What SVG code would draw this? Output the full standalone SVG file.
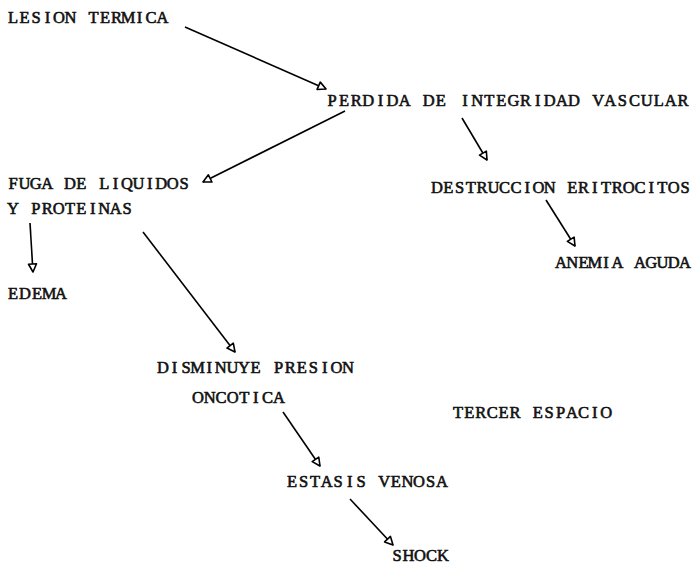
<svg xmlns="http://www.w3.org/2000/svg" width="699" height="570" viewBox="0 0 699 570">
<defs>
<marker id="ah" markerUnits="userSpaceOnUse" markerWidth="12" markerHeight="12" refX="9" refY="4.5" orient="auto" overflow="visible">
<path d="M1,0.5 L9,4.5 L1,8.5 Z" fill="#fff" stroke="#000" stroke-width="1.6" stroke-linejoin="round"/>
</marker>
<style>
text{font-family:"Liberation Serif","DejaVu Serif",serif;font-size:16.5px;fill:#111;stroke:#111;stroke-width:0.6;text-anchor:middle}
.c line{stroke:#000;stroke-width:1.6;fill:none;marker-end:url(#ah)}
</style>
</defs>
<rect width="699" height="570" fill="#fff"/>
<g id="n1"><text x="13 24.5 36 47.5 59 70.5 82 93.5 105 116.5 128 139.5 151 162.5" y="23">LESION TERMICA</text></g>
<g id="n2"><text x="332 344.1 356.2 368.3 380.4 392.5 404.6 416.7 428.8 440.9 453 465.1 477.2 489.3 501.4 513.5 525.6 537.7 549.8 561.9 574 586.1 598.2 610.3 622.4 634.5 646.6 658.7 670.8 682.9" y="106">PERDIDA DE INTEGRIDAD VASCULAR</text></g>
<g id="n3"><text x="13 24.4 35.8 47.2 58.6 70 81.4 92.8 104.2 115.6 127 138.4 149.8 161.2 172.6 184" y="189">FUGA DE LIQUIDOS</text><text x="13 24.4 35.8 47.2 58.6 70 81.4 92.8 104.2 115.6 127" y="214">Y PROTEINAS</text></g>
<g id="n4"><text x="437 448.3 459.5 470.8 482.1 493.4 504.6 515.9 527.2 538.4 549.7 561 572.3 583.5 594.8 606.1 617.3 628.6 639.9 651.2 662.4 673.7 685" y="193">DESTRUCCION ERITROCITOS</text></g>
<g id="n5"><text x="561 572.3 583.5 594.8 606.1 617.4 628.6 639.9 651.2 662.5 673.7 685" y="268">ANEMIA AGUDA</text></g>
<g id="n6"><text x="13 25 37 49 61" y="299">EDEMA</text></g>
<g id="n7"><text x="163 174.6 186.1 197.7 209.2 220.8 232.4 243.9 255.5 267 278.6 290.2 301.7 313.3 324.8 336.4 348" y="373">DISMINUYE PRESION</text><text x="198 209.6 221.1 232.7 244.2 255.8 267.4 278.9" y="403">ONCOTICA</text></g>
<g id="n8"><text x="458 469.4 480.8 492.2 503.6 515 526.4 537.8 549.2 560.6 572 583.4 594.8 606.2" y="418">TERCER ESPACIO</text></g>
<g id="n9"><text x="292 303.5 315.1 326.6 338.2 349.7 361.2 372.8 384.3 395.9 407.4 418.9 430.5 442" y="487">ESTASIS VENOSA</text></g>
<g id="n10"><text x="397 408.5 420 431.5 443" y="561">SHOCK</text></g>
<g id="connectors" class="c">
<line x1="185" y1="27" x2="326" y2="89"/>
<line x1="345" y1="111" x2="203" y2="182"/>
<line x1="462" y1="118" x2="487" y2="160"/>
<line x1="546" y1="200" x2="575" y2="246"/>
<line x1="30" y1="223" x2="33" y2="272"/>
<line x1="143" y1="232" x2="235" y2="352"/>
<line x1="283" y1="412" x2="320" y2="466"/>
<line x1="350" y1="499" x2="393" y2="545"/>
</g>
</svg>
